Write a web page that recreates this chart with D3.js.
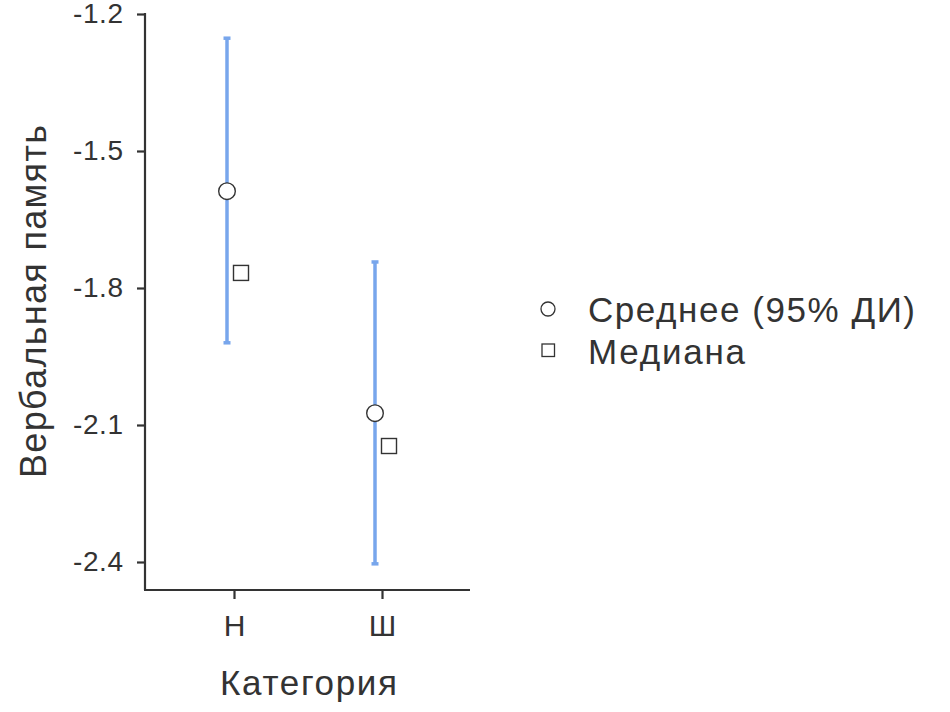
<!DOCTYPE html>
<html><head><meta charset="utf-8">
<script src="https://cdn.jsdelivr.net/npm/d3@7"></script>
<style>body{margin:0;background:#fff}text{font-family:"Liberation Sans",Arial,sans-serif;fill:#333}</style>
</head><body><svg id="c" width="950" height="712"></svg>
<script>
const categories = ["Н", "Ш"];
const meanValues = [-1.588, -2.074];
const ciLower = [-1.920, -2.404];
const ciUpper = [-1.253, -1.743];
const medianValues = [-1.767, -2.146];
const yTicks = [-1.2, -1.5, -1.8, -2.1, -2.4];
const legendLabels = ["Среднее (95% ДИ)", "Медиана"];

const svg = d3.select("#c");
const ink = "#333";
const x = d3.scalePoint().domain(categories).range([234, 382]);
const y = d3.scaleLinear().domain([-2.4, -1.2]).range([562, 14]);
const x0 = 145, x1 = 470, yBase = 590;

// axes
const gy = svg.append("g").attr("transform", `translate(${x0},0)`)
  .call(d3.axisLeft(y).tickValues(yTicks).tickFormat(d => d.toFixed(1)).tickSize(8).tickPadding(14).tickSizeOuter(0));
gy.select(".domain").remove();
gy.append("line").attr("x1",0).attr("x2",0).attr("y1",y(-1.2)-1).attr("y2",yBase).attr("stroke",ink).attr("stroke-width",2.2);
gy.selectAll(".tick line").attr("stroke",ink).attr("stroke-width",2.2);
gy.selectAll(".tick text").style("font-size","28px").style("fill",ink).style("font-family","Liberation Sans, Arial, sans-serif")
  .attr("textLength",50).attr("lengthAdjust","spacing");

const gx = svg.append("g").attr("transform", `translate(0,${yBase})`)
  .call(d3.axisBottom(x).tickSize(9).tickPadding(16).tickSizeOuter(0));
gx.select(".domain").remove();
gx.append("line").attr("x1",x0-1).attr("x2",x1).attr("y1",0).attr("y2",0).attr("stroke",ink).attr("stroke-width",2.2);
gx.selectAll(".tick line").attr("stroke",ink).attr("stroke-width",2.2);
gx.selectAll(".tick text").style("font-size","30px").style("fill",ink).style("font-family","Liberation Sans, Arial, sans-serif");

// labels
svg.append("text").attr("transform","translate(46,301.5) rotate(-90)").attr("text-anchor","middle")
  .style("font-size","36px").attr("textLength",353).attr("lengthAdjust","spacing").text("Вербальная память");
svg.append("text").attr("x",308.5).attr("y",695).attr("text-anchor","middle").style("font-size","35px")
  .attr("textLength",177).attr("lengthAdjust","spacing").text("Категория");

const dodge = 7;
const blue = "#78a6ec";
const g = svg.append("g");
categories.forEach((c,i)=>{
  const cx = x(c) - dodge;
  g.append("line").attr("x1",cx).attr("x2",cx).attr("y1",y(ciUpper[i])).attr("y2",y(ciLower[i]))
    .attr("stroke",blue).attr("stroke-width",3.5);
  [ciUpper[i], ciLower[i]].forEach(v=>{
    g.append("line").attr("x1",cx-3.5).attr("x2",cx+3.5).attr("y1",y(v)).attr("y2",y(v))
      .attr("stroke",blue).attr("stroke-width",3.5);
  });
  g.append("circle").attr("cx",cx).attr("cy",y(meanValues[i])).attr("r",8.3)
    .attr("fill","#fff").attr("stroke",ink).attr("stroke-width",1.4);
  const mx = x(c) + dodge;
  g.append("rect").attr("x",mx-7.5).attr("y",y(medianValues[i])-7.5).attr("width",15).attr("height",15)
    .attr("fill","#fff").attr("stroke",ink).attr("stroke-width",1.4);
});

// legend
const lg = svg.append("g");
lg.append("circle").attr("cx",548).attr("cy",309).attr("r",7).attr("fill","#fff").attr("stroke",ink).attr("stroke-width",1.3);
lg.append("rect").attr("x",542).attr("y",344).attr("width",12.5).attr("height",12.5).attr("fill","#fff").attr("stroke",ink).attr("stroke-width",1.3);
const legendWidths = [327, 157];
legendLabels.forEach((t,i)=>{
  lg.append("text").attr("x",588).attr("y",322+i*42).style("font-size","35px")
    .attr("textLength",legendWidths[i]).attr("lengthAdjust","spacing").text(t);
});
</script></body></html>
